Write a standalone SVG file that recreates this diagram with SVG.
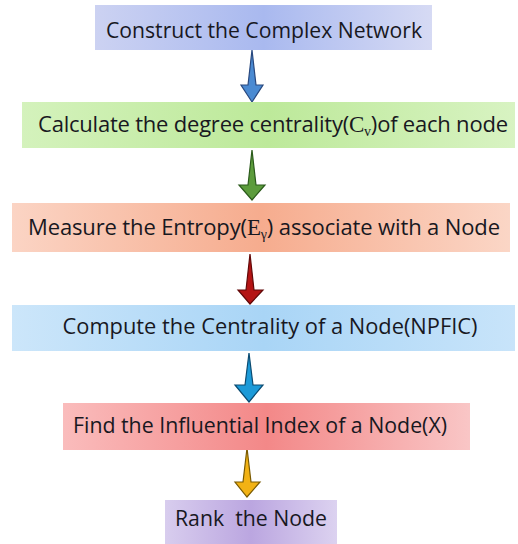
<svg xmlns="http://www.w3.org/2000/svg" width="518" height="544" viewBox="0 0 518 544">
<style>
.t{font-family:"Open Sans","Noto Sans","Liberation Sans",sans-serif;font-size:22px;fill:#18181f;text-anchor:middle}
.s{font-family:"Liberation Serif",serif}
.a{stroke-width:1.2;stroke-linejoin:miter}
</style>
<defs>
<linearGradient id="g1" x1="0" x2="1" y1="0" y2="0"><stop offset="0" stop-color="#ccd2f2"/><stop offset="0.5" stop-color="#a9b9ef"/><stop offset="1" stop-color="#d6daf4"/></linearGradient>
<linearGradient id="g2" x1="0" x2="1" y1="0" y2="0"><stop offset="0" stop-color="#d4f2bc"/><stop offset="0.5" stop-color="#bde99a"/><stop offset="1" stop-color="#d8f3c2"/></linearGradient>
<linearGradient id="g3" x1="0" x2="1" y1="0" y2="0"><stop offset="0" stop-color="#fbd4c4"/><stop offset="0.5" stop-color="#f6ac8e"/><stop offset="1" stop-color="#fbd6c6"/></linearGradient>
<linearGradient id="g4" x1="0" x2="1" y1="0" y2="0"><stop offset="0" stop-color="#cce6fa"/><stop offset="0.5" stop-color="#a9d5f6"/><stop offset="1" stop-color="#c8e4fa"/></linearGradient>
<linearGradient id="g5" x1="0" x2="1" y1="0" y2="0"><stop offset="0" stop-color="#fabcbc"/><stop offset="0.5" stop-color="#f38888"/><stop offset="1" stop-color="#f9c6c6"/></linearGradient>
<linearGradient id="g6" x1="0" x2="1" y1="0" y2="0"><stop offset="0" stop-color="#d8cdee"/><stop offset="0.5" stop-color="#bba6e0"/><stop offset="1" stop-color="#dcd2f0"/></linearGradient>
</defs>
<g id="connectors">
<polygon class="a" points="252,50 256,85 263,85 252,102 241,85 248,85" fill="#4a8ad2" stroke="#28487e"/>
<polygon class="a" points="252,150 256,185 265,185 252,200 239,185 248,185" fill="#5c9c3c" stroke="#2a5a1a"/>
<polygon class="a" points="250,254 254,290 263,290 250,304 238,290 246,290" fill="#b41414" stroke="#600808"/>
<polygon class="a" points="249,353 253,385 263,385 249,402 235,385 245,385" fill="#1c9ad8" stroke="#0a4a70"/>
<polygon class="a" points="247,448 251,482 260,482 247,497 235,482 243,482" fill="#f2b214" stroke="#7a5a00"/>
</g>
<g id="n1"><rect x="95" y="5" width="337" height="45" fill="url(#g1)"/><text class="t" x="264" y="38" textLength="316" lengthAdjust="spacingAndGlyphs">Construct the Complex Network</text></g>
<g id="n2"><rect x="22" y="102" width="493" height="46" fill="url(#g2)"/><text class="t" x="273" y="132" textLength="470" lengthAdjust="spacing">Calculate the degree centrality(<tspan class="s" font-size="23">C</tspan><tspan class="s" font-size="14" dy="4">v</tspan><tspan dy="-4">)of each node</tspan></text></g>
<g id="n3"><rect x="12" y="203" width="498" height="49" fill="url(#g3)"/><text class="t" x="264" y="235" textLength="472" lengthAdjust="spacing">Measure the Entropy(<tspan class="s" font-size="23">E</tspan><tspan class="s" font-size="14" dy="4">γ</tspan><tspan dy="-4">) associate with a Node</tspan></text></g>
<g id="n4"><rect x="12" y="305" width="503" height="46" fill="url(#g4)"/><text class="t" x="270" y="334" textLength="415" lengthAdjust="spacingAndGlyphs">Compute the Centrality of a Node(NPFIC)</text></g>
<g id="n5"><rect x="63" y="403" width="407" height="47" fill="url(#g5)"/><text class="t" x="260" y="433" textLength="374" lengthAdjust="spacingAndGlyphs">Find the Influential Index of a Node(X)</text></g>
<g id="n6"><rect x="165" y="500" width="172" height="44" fill="url(#g6)"/><text class="t" x="251" y="526" textLength="152" lengthAdjust="spacingAndGlyphs">Rank&#160; the Node</text></g>
</svg>
